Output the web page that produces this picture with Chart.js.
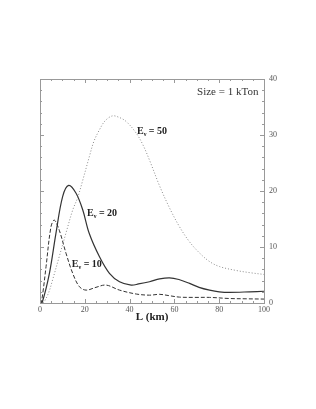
<!DOCTYPE html>
<html><head><meta charset="utf-8">
<script src="https://cdn.jsdelivr.net/npm/chart.js@4/dist/chart.umd.min.js"></script>
<style>html,body{margin:0;padding:0;background:#fff}#w{width:316px;height:409px}</style>
</head><body><div id="w"><canvas id="c" width="316" height="409"></canvas></div>
<script>
const xTicks = [0, 20, 40, 60, 80, 100];
const yTicks = [0, 10, 20, 30, 40];
const e10L = [0, 0.5, 1.5, 2.7, 4.9, 6.4, 8.6, 11.6, 14.6, 17.6, 20.6, 25, 29.5, 35.5, 43, 48.9, 53.4, 57.8, 62.3, 69, 75.7, 84.7, 92, 100];
const e10V = [0, 0, 2.5, 6.5, 13.6, 14.8, 13.0, 8.9, 5.3, 2.9, 2.3, 2.8, 3.2, 2.3, 1.6, 1.4, 1.55, 1.3, 1.05, 1.0, 1.0, 0.8, 0.75, 0.7];
const e20L = [0, 0.9, 4.2, 7.1, 10.1, 12.8, 16.1, 19.1, 22, 26.5, 31, 35.5, 40.7, 44, 48.9, 53.4, 57.8, 62, 66.8, 71, 75.7, 80, 84.7, 93.6, 100];
const e20V = [0, 0, 5.3, 12.4, 19.0, 21.0, 19.6, 16.6, 12.4, 8.3, 5.3, 3.8, 3.2, 3.4, 3.8, 4.3, 4.5, 4.2, 3.5, 2.8, 2.3, 2.0, 1.9, 2.0, 2.1];
const e50L = [0, 1, 2, 4, 5.6, 8.6, 11.6, 14.6, 16.8, 19, 22, 24, 26.5, 29, 32.2, 35, 38.5, 43, 46, 49, 53.4, 57.8, 62.3, 66.8, 71.3, 75.7, 80.2, 87.7, 94, 100];
const e50V = [0, 0, 0.3, 2, 4.1, 8.3, 12.5, 16.6, 18.8, 21.8, 26.1, 28.8, 30.9, 32.5, 33.4, 33.2, 32.4, 30.3, 28.2, 25.4, 20.9, 17.0, 13.6, 10.9, 8.9, 7.4, 6.5, 5.8, 5.4, 5.1];
const labels = [
  {x: 14.2, y: 6.8, main: 'E', sub: 'ν', rest: ' = 10'},
  {x: 21.0, y: 16.0, main: 'E', sub: 'ν', rest: ' = 20'},
  {x: 43.3, y: 30.6, main: 'E', sub: 'ν', rest: ' = 50'}
];
const sizeText = 'Size = 1 kTon';

const pts = (L, V) => L.map((x, i) => ({x, y: V[i]}));
const serif = '"Liberation Serif", "DejaVu Serif", serif';

const decor = {
  id: 'decor',
  afterDraw(chart) {
    const {ctx, chartArea: a, scales: {x, y}} = chart;
    ctx.save();
    ctx.strokeStyle = '#999';
    ctx.lineWidth = 1;
    ctx.strokeRect(Math.round(a.left) + 0.5, Math.round(a.top) + 0.5, Math.round(a.right - a.left), Math.round(a.bottom - a.top));
    ctx.beginPath();
    for (let v = 0; v <= 100; v += 5) {
      const px = Math.round(x.getPixelForValue(v)) + 0.5;
      const len = v % 20 === 0 ? 4 : 2;
      ctx.moveTo(px, a.bottom); ctx.lineTo(px, a.bottom - len);
      ctx.moveTo(px, a.top); ctx.lineTo(px, a.top + len);
    }
    for (let v = 0; v <= 40; v += 2) {
      const py = Math.round(y.getPixelForValue(v)) + 0.5;
      const len = v % 10 === 0 ? 4 : 2;
      ctx.moveTo(a.left, py); ctx.lineTo(a.left + len, py);
      ctx.moveTo(a.right, py); ctx.lineTo(a.right - len, py);
    }
    ctx.stroke();
    ctx.fillStyle = '#222';
    for (const l of labels) {
      let px = x.getPixelForValue(l.x), py = y.getPixelForValue(l.y);
      ctx.font = 'bold 10px ' + serif;
      ctx.textBaseline = 'middle';
      ctx.textAlign = 'left';
      ctx.fillText(l.main, px, py);
      px += ctx.measureText(l.main).width;
      ctx.font = 'bold 6px ' + serif;
      ctx.fillText(l.sub, px, py + 3);
      px += ctx.measureText(l.sub).width;
      ctx.font = 'bold 10px ' + serif;
      ctx.fillText(l.rest, px, py);
    }
    ctx.font = '11px ' + serif;
    ctx.textAlign = 'right';
    ctx.fillStyle = '#333';
    ctx.fillText(sizeText, x.getPixelForValue(97.5), y.getPixelForValue(37.6));
    ctx.restore();
  }
};

new Chart(document.getElementById('c'), {
  type: 'line',
  data: {
    datasets: [
      {data: pts(e50L, e50V), borderColor: '#888', borderWidth: 1, borderDash: [1, 2], pointRadius: 0, tension: 0.35},
      {data: pts(e20L, e20V), borderColor: '#333', borderWidth: 1.2, pointRadius: 0, tension: 0.35},
      {data: pts(e10L, e10V), borderColor: '#333', borderWidth: 1, borderDash: [4, 2], pointRadius: 0, tension: 0.35}
    ]
  },
  options: {
    responsive: false,
    animation: false,
    devicePixelRatio: 1,
    layout: {padding: {left: 40, right: 32, top: 79, bottom: 81}},
    plugins: {legend: {display: false}, tooltip: {enabled: false}},
    elements: {line: {capBezierPoints: true}},
    scales: {
      x: {
        type: 'linear', min: 0, max: 100,
        afterBuildTicks: s => { s.ticks = xTicks.map(v => ({value: v})); },
        afterFit: s => { s.height = 25; },
        grid: {display: false, drawTicks: false}, border: {display: false},
        ticks: {font: {family: serif, size: 8}, color: '#555', padding: 2, maxRotation: 0},
        title: {display: true, text: 'L (km)', font: {family: serif, size: 11, weight: 'bold'}, color: '#222', padding: {top: 0, bottom: 4}}
      },
      y: {
        position: 'right', min: 0, max: 40,
        afterBuildTicks: s => { s.ticks = yTicks.map(v => ({value: v})); },
        afterFit: s => { s.width = 20; },
        grid: {display: false, drawTicks: false}, border: {display: false},
        ticks: {font: {family: serif, size: 8}, color: '#555', padding: 5}
      }
    }
  },
  plugins: [decor]
});
</script></body></html>
